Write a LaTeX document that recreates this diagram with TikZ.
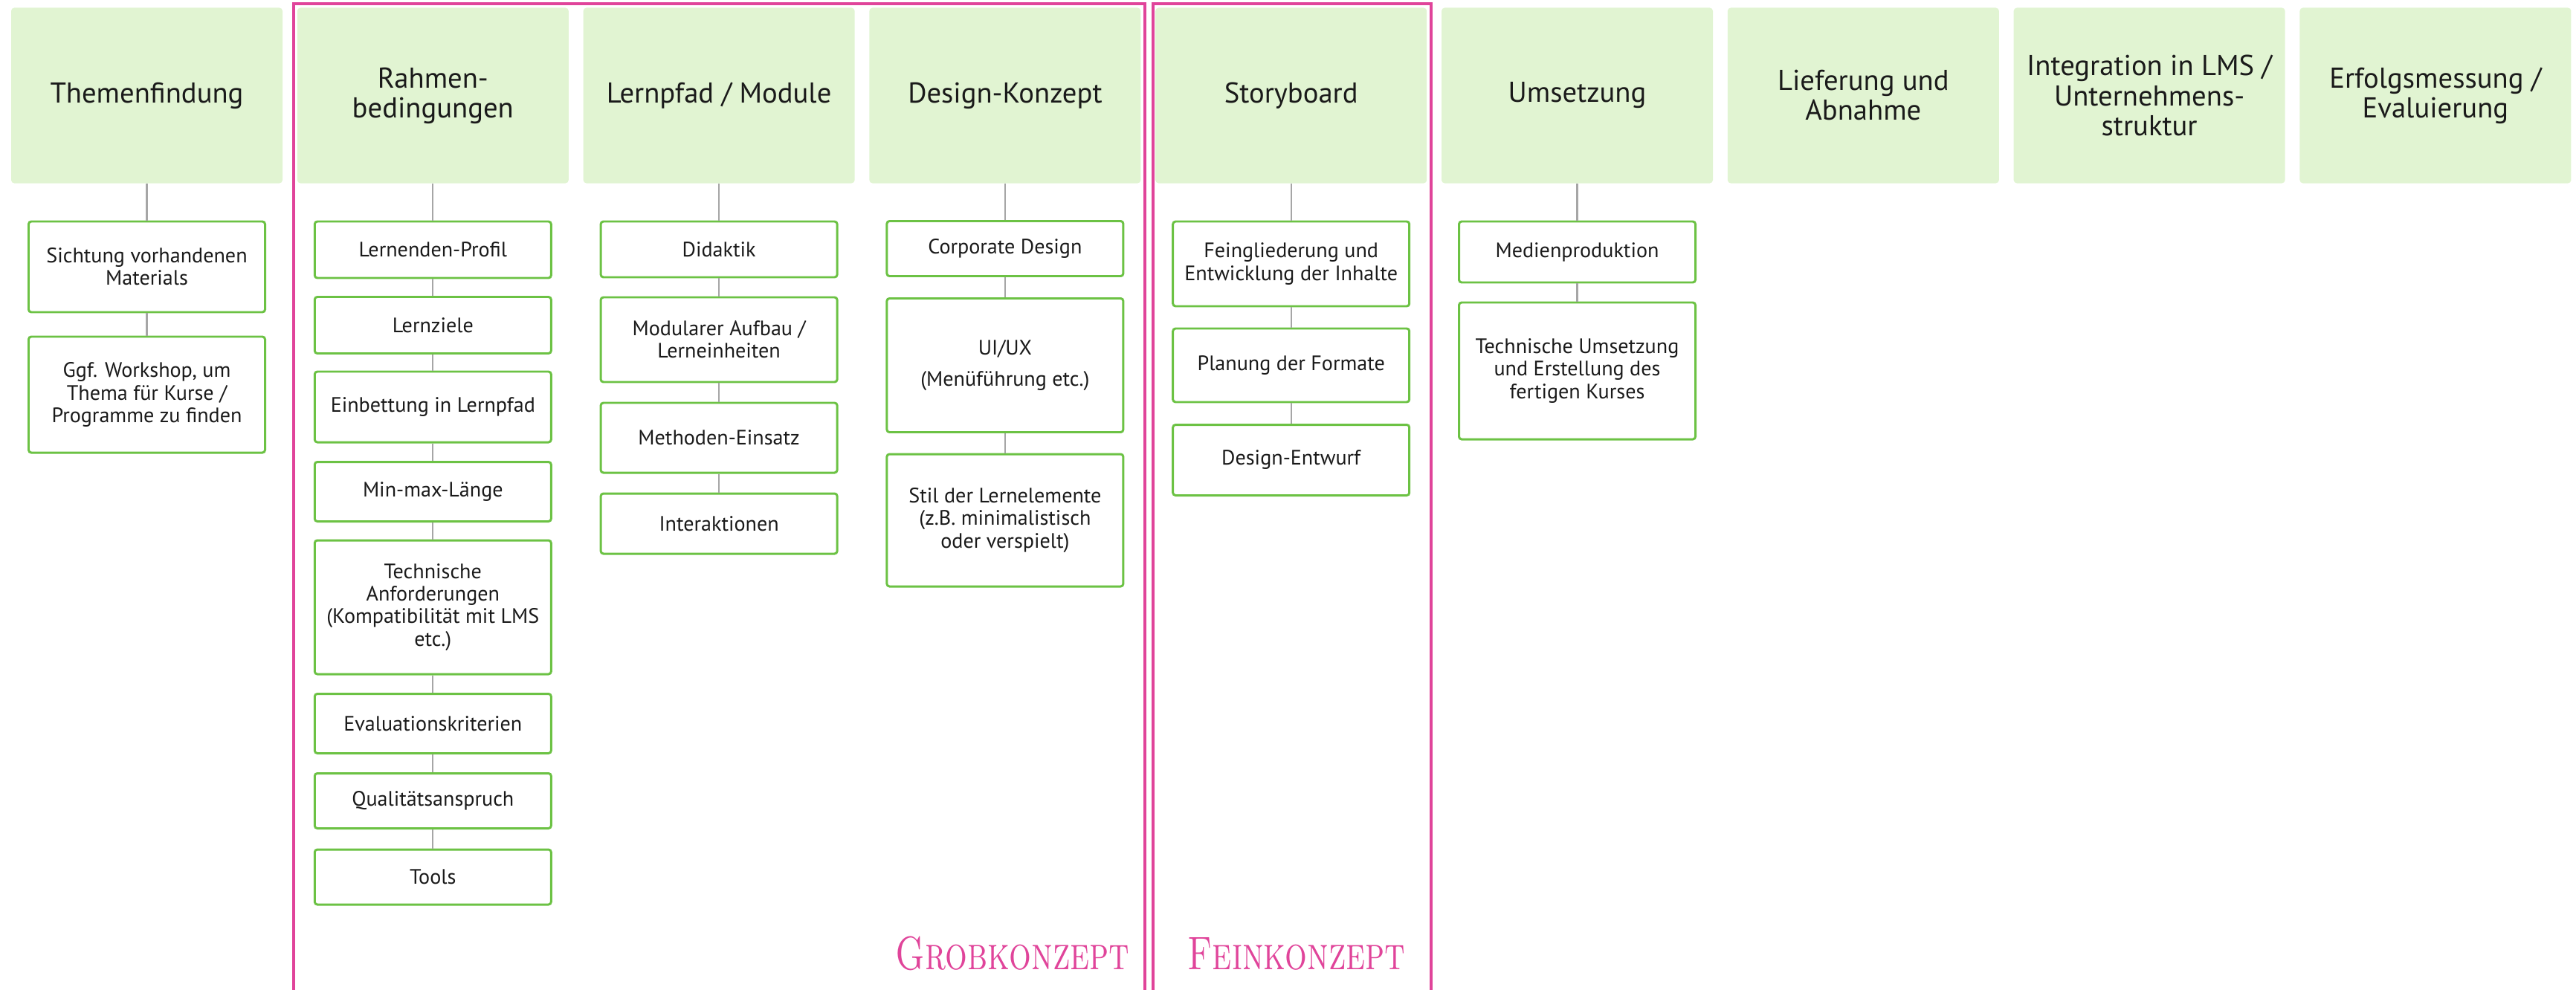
\documentclass[tikz,border=0pt]{standalone}
\usepackage{fontspec}
\setmainfont{PT Sans}
\definecolor{phasefill}{HTML}{E1F4D2}
\definecolor{taskgreen}{HTML}{6CC244}
\definecolor{linkgray}{HTML}{A6A6A6}
\definecolor{konzeptpink}{HTML}{E0449A}
\definecolor{textdark}{HTML}{1A1A1A}
\begin{document}
\begin{tikzpicture}[
        phase/.style={fill=phasefill, rounded corners=1.2pt, minimum width=3.65cm, minimum height=2.36cm, align=center, inner sep=0pt, text=textdark, font=\fontsize{11}{11.4}\selectfont},
        task/.style={draw=taskgreen, line width=0.85pt, rounded corners=1pt, fill=white, minimum width=3.18cm, align=center, inner sep=0pt, text=textdark, font=\fontsize{8}{8.6}\selectfont},
        link/.style={draw=linkgray, line width=0.6pt},
        konzeptframe/.style={draw=konzeptpink, line width=1.1pt},
        konzept/.style={text=konzeptpink, inner sep=0pt, xscale=0.74, transform shape, font=\fontfamily{lmr}\fontsize{18}{18}\selectfont\scshape}
    ]
        \useasboundingbox (0,0) rectangle (34.65,-13.31);
        %\draw [help lines] (0,0) grid (35,-14);

        % Grobkonzept / Feinkonzept
        \draw [konzeptframe] (3.95,-13.5) -- (3.95,-0.05) -- (15.40,-0.05) -- (15.40,-13.5);
        \draw [konzeptframe] (15.51,-13.5) -- (15.51,-0.05) -- (19.25,-0.05) -- (19.25,-13.5);
        \node (grob) [konzept, anchor=base east] at (15.20,-13.04) {Grobkonzept};
        \node (fein) [konzept, anchor=base west] at (15.97,-13.04) {Feinkonzept};

        % phases
        \node (themen) [phase] at (1.975,-1.285) {Themenfindung};
        \node (rahmen) [phase] at (5.823,-1.285) {Rahmen-\\bedingungen};
        \node (lernpfad) [phase] at (9.671,-1.285) {Lernpfad / Module};
        \node (design) [phase] at (13.519,-1.285) {Design-Konzept};
        \node (story) [phase] at (17.367,-1.285) {Storyboard};
        \node (umsetzung) [phase] at (21.215,-1.285) {Umsetzung};
        \node (lieferung) [phase] at (25.063,-1.285) {Lieferung und\\Abnahme};
        \node (integration) [phase] at (28.911,-1.285) {Integration in LMS /\\Unternehmens-\\struktur};
        \node (erfolg) [phase] at (32.759,-1.285) {Erfolgsmessung /\\Evaluierung};

        % Themenfindung
        \node (sichtung) [task, minimum height=1.22cm] at (1.975,-3.59) {Sichtung vorhandenen\\Materials};
        \node (workshop) [task, minimum height=1.56cm] at (1.975,-5.31) {Ggf. Workshop, um\\Thema für Kurse /\\Programme zu finden};
        \draw [link] (themen) -- (sichtung);
        \draw [link] (sichtung) -- (workshop);

        % Rahmenbedingungen
        \node (profil) [task, minimum height=0.76cm] at (5.823,-3.36) {Lernenden-Profil};
        \node (ziele) [task, minimum height=0.76cm] at (5.823,-4.375) {Lernziele};
        \node (einbettung) [task, minimum height=0.95cm] at (5.823,-5.475) {Einbettung in Lernpfad};
        \node (laenge) [task, minimum height=0.80cm] at (5.823,-6.615) {Min-max-Länge};
        \node (technik) [task, minimum height=1.80cm] at (5.823,-8.17) {Technische\\Anforderungen\\(Kompatibilität mit LMS\\etc.)};
        \node (kriterien) [task, minimum height=0.80cm] at (5.823,-9.735) {Evaluationskriterien};
        \node (qualitaet) [task, minimum height=0.74cm] at (5.823,-10.775) {Qualitätsanspruch};
        \node (tools) [task, minimum height=0.74cm] at (5.823,-11.80) {Tools};
        \draw [link] (rahmen) -- (profil);
        \draw [link] (profil) -- (ziele);
        \draw [link] (ziele) -- (einbettung);
        \draw [link] (einbettung) -- (laenge);
        \draw [link] (laenge) -- (technik);
        \draw [link] (technik) -- (kriterien);
        \draw [link] (kriterien) -- (qualitaet);
        \draw [link] (qualitaet) -- (tools);

        % Lernpfad / Module
        \node (didaktik) [task, minimum height=0.75cm] at (9.671,-3.355) {Didaktik};
        \node (modular) [task, minimum height=1.14cm] at (9.671,-4.57) {Modularer Aufbau /\\Lerneinheiten};
        \node (methoden) [task, minimum height=0.94cm] at (9.671,-5.89) {Methoden-Einsatz};
        \node (interaktion) [task, minimum height=0.81cm] at (9.671,-7.045) {Interaktionen};
        \draw [link] (lernpfad) -- (didaktik);
        \draw [link] (didaktik) -- (modular);
        \draw [link] (modular) -- (methoden);
        \draw [link] (methoden) -- (interaktion);

        % Design-Konzept
        \node (corporate) [task, minimum height=0.74cm] at (13.519,-3.345) {Corporate Design};
        \node (uiux) [task, minimum height=1.80cm] at (13.519,-4.915) {UI/UX\\[3.5pt](Menüführung etc.)};
        \node (stil) [task, minimum height=1.78cm] at (13.519,-7.00) {Stil der Lernelemente\\(z.B. minimalistisch\\oder verspielt)};
        \draw [link] (design) -- (corporate);
        \draw [link] (corporate) -- (uiux);
        \draw [link] (uiux) -- (stil);

        % Storyboard
        \node (gliederung) [task, minimum height=1.14cm] at (17.367,-3.55) {Feingliederung und\\Entwicklung der Inhalte};
        \node (formate) [task, minimum height=0.99cm] at (17.367,-4.915) {Planung der Formate};
        \node (entwurf) [task, minimum height=0.95cm] at (17.367,-6.19) {Design-Entwurf};
        \draw [link] (story) -- (gliederung);
        \draw [link] (gliederung) -- (formate);
        \draw [link] (formate) -- (entwurf);

        % Umsetzung
        \node (medien) [task, minimum height=0.82cm] at (21.215,-3.39) {Medienproduktion};
        \node (erstellung) [task, minimum height=1.84cm] at (21.215,-4.99) {Technische Umsetzung\\und Erstellung des\\fertigen Kurses};
        \draw [link] (umsetzung) -- (medien);
        \draw [link] (medien) -- (erstellung);

    \end{tikzpicture}
\end{document}
